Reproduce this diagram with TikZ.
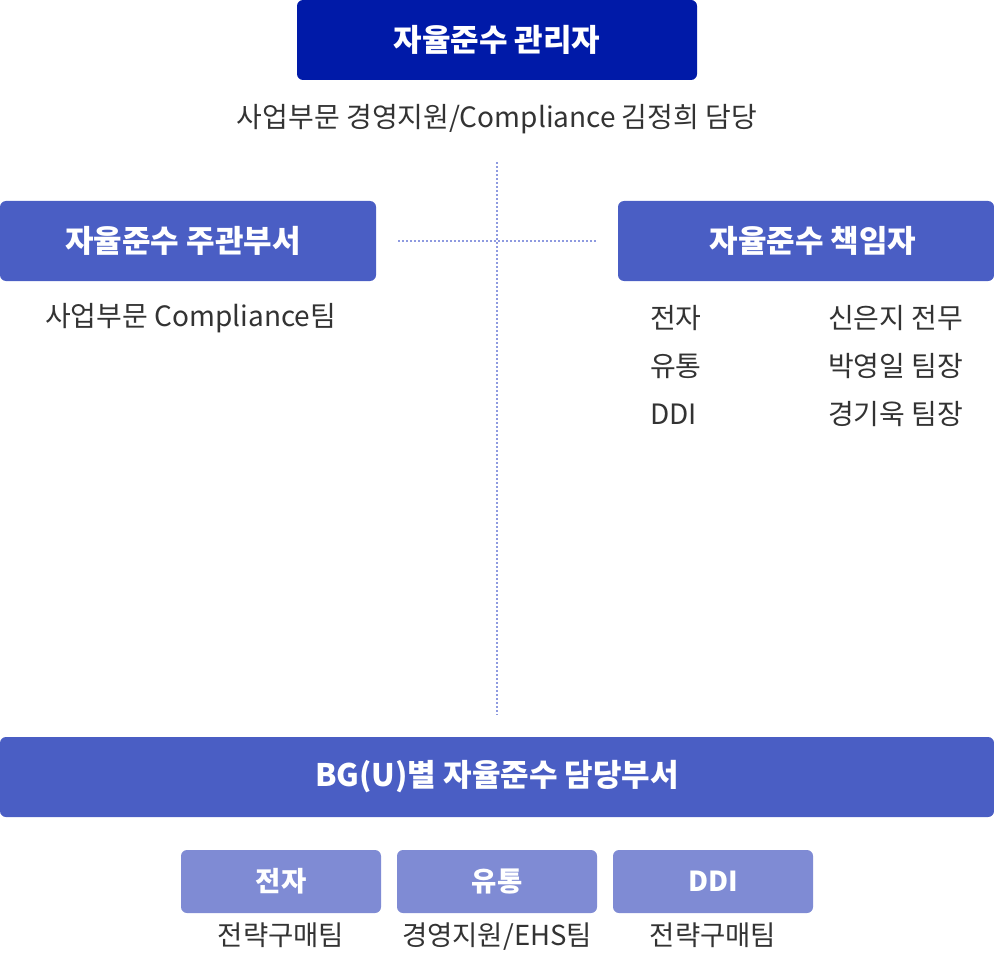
\documentclass[tikz,border=0pt]{standalone}
\usepackage{fontspec}
\setmainfont{Noto Sans CJK KR}
\usetikzlibrary{positioning}

\definecolor{navy}{HTML}{001AA8}
\definecolor{midblue}{HTML}{4A5EC4}
\definecolor{softblue}{HTML}{7F8BD4}
\definecolor{dotline}{HTML}{8E9AE0}
\definecolor{txt}{HTML}{333333}

\begin{document}
\begin{tikzpicture}[x=1pt,y=1pt,
  titlebox/.style={fill=#1,rounded corners=6pt,text=white,inner sep=0pt,
    font=\fontsize{31}{36}\selectfont\bfseries},
  smallbox/.style={fill=softblue,rounded corners=6pt,text=white,inner sep=0pt,
    minimum width=200pt,minimum height=63pt,font=\fontsize{27.5}{32}\selectfont\bfseries},
  info/.style={inner sep=0pt,text=txt,font=\fontsize{28}{32}\selectfont},
  dotted line/.style={draw=dotline,line width=1.6pt,dash pattern=on 1.6pt off 2.4pt}]
\useasboundingbox (0,0) rectangle (994,-955);

% top level
\node[titlebox=navy,minimum width=400pt,minimum height=80pt] (admin) at (497,-40) {자율준수 관리자};
\node[info,below=24pt of admin] (adminsub) {사업부문 경영지원/Compliance 김정희 담당};

% middle level
\node[titlebox=midblue,minimum width=376pt,minimum height=80pt] (dept) at (188,-241) {\hspace*{-10pt}자율준수 주관부서};
\node[titlebox=midblue,minimum width=376pt,minimum height=80pt] (resp) at (806,-241) {\hspace*{14pt}자율준수 책임자};
\node[info,anchor=west] (deptsub) at (45,-318) {사업부문 Compliance팀};

\node[info,anchor=west] (r1) at (650,-318) {전자};
\node[info,anchor=west] (r2) at (650,-366) {유통};
\node[info,anchor=west] (r3) at (650,-414) {DDI};
\node[info,anchor=west] (p1) at (828,-318) {신은지 전무};
\node[info,anchor=west] (p2) at (828,-366) {박영일 팀장};
\node[info,anchor=west] (p3) at (828,-414) {경기욱 팀장};

% bottom level
\node[titlebox=midblue,minimum width=994pt,minimum height=80pt] (bg) at (497,-777) {BG(U)별 자율준수 담당부서};
\node[smallbox] (elec) at (281,-881.5) {전자};
\node[smallbox] (dist) at (497,-881.5) {유통};
\node[smallbox] (ddi) at (713,-881.5) {DDI};
\node[info,font=\fontsize{27.5}{32}\selectfont,below=9pt of elec] (elecsub) {전략구매팀};
\node[info,font=\fontsize{27.5}{32}\selectfont,below=9pt of dist] (distsub) {경영지원/EHS팀};
\node[info,font=\fontsize{27.5}{32}\selectfont,below=9pt of ddi] (ddisub) {전략구매팀};

% dotted connectors
\draw[dotted line,shorten <=28pt,shorten >=22pt] (adminsub) -- (adminsub |- bg.north);
\draw[dotted line,shorten <=22pt,shorten >=22pt] (dept.east) -- (resp.west);
\end{tikzpicture}
\end{document}
